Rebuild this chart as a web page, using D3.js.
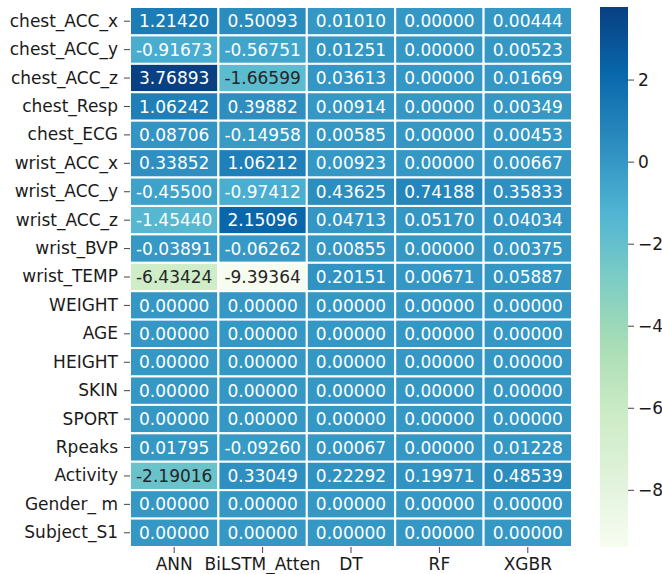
<!DOCTYPE html>
<html>
<head>
<meta charset="utf-8">
<script src="https://cdn.jsdelivr.net/npm/d3@7"></script>
<style>
  body { margin: 0; background: #fff; }
  text { font-family: "DejaVu Sans", sans-serif; }
</style>
</head>
<body>
<svg id="heatmap"></svg>
<script>
const features = ["chest_ACC_x", "chest_ACC_y", "chest_ACC_z", "chest_Resp", "chest_ECG",
  "wrist_ACC_x", "wrist_ACC_y", "wrist_ACC_z", "wrist_BVP", "wrist_TEMP",
  "WEIGHT", "AGE", "HEIGHT", "SKIN", "SPORT", "Rpeaks", "Activity", "Gender_ m", "Subject_S1"];
const models = ["ANN", "BiLSTM_Atten", "DT", "RF", "XGBR"];

const annValues = [1.21420, -0.91673, 3.76893, 1.06242, 0.08706, 0.33852, -0.45500, -1.45440, -0.03891, -6.43424,
  0, 0, 0, 0, 0, 0.01795, -2.19016, 0, 0];
const bilstmValues = [0.50093, -0.56751, -1.66599, 0.39882, -0.14958, 1.06212, -0.97412, 2.15096, -0.06262, -9.39364,
  0, 0, 0, 0, 0, -0.09260, 0.33049, 0, 0];
const dtValues = [0.01010, 0.01251, 0.03613, 0.00914, 0.00585, 0.00923, 0.43625, 0.04713, 0.00855, 0.20151,
  0, 0, 0, 0, 0, 0.00067, 0.22292, 0, 0];
const rfValues = [0, 0, 0, 0, 0, 0, 0.74188, 0.05170, 0, 0.00671,
  0, 0, 0, 0, 0, 0, 0.19971, 0, 0];
const xgbrValues = [0.00444, 0.00523, 0.01669, 0.00349, 0.00453, 0.00667, 0.35833, 0.04034, 0.00375, 0.05887,
  0, 0, 0, 0, 0, 0.01228, 0.48539, 0, 0];

const colorbarTicks = [-8, -6, -4, -2, 0, 2];

// ColorBrewer GnBu, as matplotlib interpolates it
const gnbu = ["#f7fcf0", "#e0f3db", "#ccebc5", "#a8ddb5", "#7bccc4", "#4eb3d3", "#2b8cbe", "#0868ac", "#084081"];

const columns = [annValues, bilstmValues, dtValues, rfValues, xgbrValues];
const cells = [];
columns.forEach((vals, j) => {
  vals.forEach((v, i) => cells.push({ feature: features[i], model: models[j], value: v }));
});

const W = 662, H = 574;
const margin = { left: 130, top: 7, right: 572, bottom: 547 };

const svg = d3.select("#heatmap").attr("width", W).attr("height", H);

const x = d3.scaleBand().domain(models).range([margin.left, margin.right]);
const y = d3.scaleBand().domain(features).range([margin.top, margin.bottom]);

const vmin = d3.min(cells, d => d.value);
const vmax = d3.max(cells, d => d.value);
const t = d3.scaleLinear().domain([vmin, vmax]).range([0, 1]);
const cmap = d3.scaleLinear()
  .domain(d3.range(gnbu.length).map(i => i / (gnbu.length - 1)))
  .range(gnbu)
  .interpolate(d3.interpolateRgb);
const color = v => cmap(t(v));

function lum(c) {
  const rgb = d3.rgb(c);
  const lin = [rgb.r, rgb.g, rgb.b].map(u => {
    u /= 255;
    return u <= 0.03928 ? u / 12.92 : Math.pow((u + 0.055) / 1.055, 2.4);
  });
  return 0.2126 * lin[0] + 0.7152 * lin[1] + 0.0722 * lin[2];
}

svg.append("g").selectAll("rect")
  .data(cells)
  .join("rect")
  .attr("x", d => x(d.model))
  .attr("y", d => y(d.feature))
  .attr("width", x.bandwidth())
  .attr("height", y.bandwidth())
  .attr("fill", d => color(d.value))
  .attr("stroke", "#fff")
  .attr("stroke-width", 2);

svg.append("g").selectAll("text")
  .data(cells)
  .join("text")
  .attr("x", d => x(d.model) + x.bandwidth() / 2)
  .attr("y", d => y(d.feature) + y.bandwidth() / 2)
  .attr("dy", "0.36em")
  .attr("text-anchor", "middle")
  .attr("font-size", 17)
  .attr("fill", d => lum(color(d.value)) > 0.408 ? "#262626" : "#ffffff")
  .text(d => d.value.toFixed(5));

// axes
const yAxis = svg.append("g")
  .attr("transform", `translate(${margin.left},0)`)
  .call(d3.axisLeft(y).tickSize(6).tickPadding(6));
const xAxis = svg.append("g")
  .attr("transform", `translate(0,${margin.bottom})`)
  .call(d3.axisBottom(x).tickSize(6).tickPadding(5));

[yAxis, xAxis].forEach(a => {
  a.select(".domain").remove();
  a.selectAll(".tick line").attr("stroke", "#444").attr("stroke-width", 1);
  a.selectAll(".tick text").attr("font-size", 17).attr("fill", "#1a1a1a")
    .style("font-family", "DejaVu Sans, sans-serif");
});

// colorbar
const cbLeft = 600, cbWidth = 28;
const cbScale = d3.scaleLinear().domain([vmin, vmax]).range([margin.bottom, margin.top]);

const defs = svg.append("defs");
const grad = defs.append("linearGradient")
  .attr("id", "cbgrad")
  .attr("x1", 0).attr("y1", 1).attr("x2", 0).attr("y2", 0);
grad.selectAll("stop")
  .data(d3.range(0, 1.0001, 0.02))
  .join("stop")
  .attr("offset", d => d)
  .attr("stop-color", d => cmap(d));

svg.append("rect")
  .attr("x", cbLeft)
  .attr("y", margin.top)
  .attr("width", cbWidth)
  .attr("height", margin.bottom - margin.top)
  .attr("fill", "url(#cbgrad)");

const cbAxis = svg.append("g")
  .attr("transform", `translate(${cbLeft + cbWidth},0)`)
  .call(d3.axisRight(cbScale).tickValues(colorbarTicks).tickSize(6).tickPadding(4));
cbAxis.select(".domain").remove();
cbAxis.selectAll(".tick line").attr("stroke", "#444").attr("stroke-width", 1);
cbAxis.selectAll(".tick text").attr("font-size", 17).attr("fill", "#1a1a1a")
  .style("font-family", "DejaVu Sans, sans-serif");
</script>
</body>
</html>
